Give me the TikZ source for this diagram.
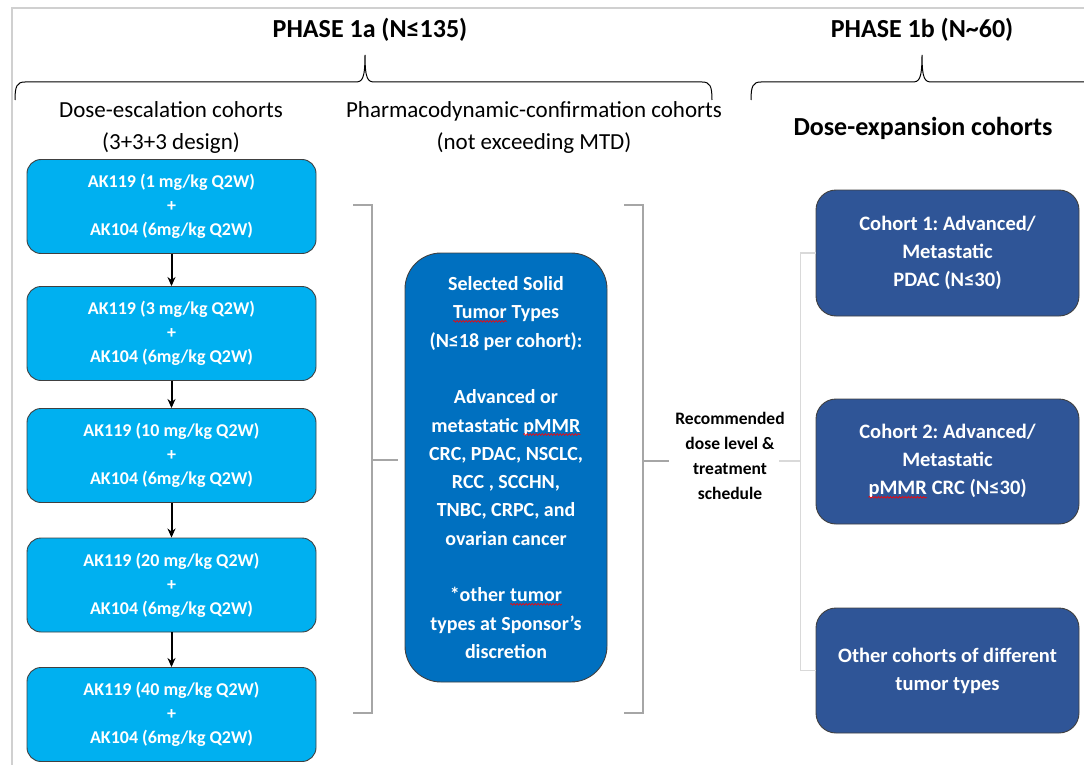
\documentclass[tikz,border=0pt]{standalone}
\usepackage{fontspec}
\setmainfont{Carlito}
\usetikzlibrary{arrows.meta, positioning, calc, decorations.pathmorphing}
\frenchspacing

\definecolor{doseblue}{HTML}{00B0F0}
\definecolor{pdblue}{HTML}{0070C0}
\definecolor{expblue}{HTML}{2F5597}
\definecolor{bracketgray}{HTML}{A6A6A6}
\definecolor{treegray}{HTML}{D9D9D9}
\definecolor{framegray}{HTML}{D0D0D0}

% red spell-check squiggle under a word
\newcommand{\spellmark}[1]{\tikz[baseline=(w.base)]{\node[rectangle, inner sep=0pt, outer sep=0pt, draw=none, fill=none, minimum width=0pt, minimum height=0pt, rounded corners=0pt] (w) {#1};
    \draw[red, line width=0.6pt, rounded corners=0pt, decorate, decoration={snake, amplitude=0.9pt, segment length=3pt}] ([yshift=-2.5pt]w.base west) -- ([yshift=-2.5pt]w.base east);}}

\begin{document}
\begin{tikzpicture}[x=1pt, y=-1pt,
    dosebox/.style={rectangle, rounded corners=14pt, draw=black!75, line width=0.9pt, fill=doseblue, text=white, font=\fontsize{18}{24}\selectfont\bfseries, align=center, minimum width=289pt, minimum height=94pt},
    pdbox/.style={rectangle, rounded corners=36pt, draw=black!75, line width=0.9pt, fill=pdblue, text=white, font=\fontsize{20}{28.3}\selectfont\bfseries, align=center, minimum width=202pt, minimum height=429pt},
    expbox/.style={rectangle, rounded corners=20pt, draw=black!75, line width=0.9pt, fill=expblue, text=white, font=\fontsize{20.5}{28}\selectfont\bfseries, align=center, minimum width=263pt, minimum height=125pt},
    phasehead/.style={font=\fontsize{26}{30}\selectfont\bfseries},
    colhead/.style={font=\fontsize{23}{32}\selectfont, align=center},
    flow/.style={-{Stealth[length=9pt,width=8pt]}, line width=2pt, black},
    bracket/.style={bracketgray, line width=1.6pt},
    tree/.style={treegray, line width=1.6pt}
]
\useasboundingbox (0,0) rectangle (1084,765);

% frame
\draw[framegray, line width=1.5pt] (12,765) -- (12,8) -- (1084,8);

% phase headers and braces
\node[phasehead] (phaseA) at (370,30) {PHASE 1a (N≤135)};
\node[phasehead] (phaseB) at (922,30) {PHASE 1b (N\textasciitilde 60)};

\draw[line width=1pt] (15,100) .. controls (15,86) and (17,82) .. (25,82) -- (355,82)
    .. controls (362,82) and (365,80) .. (365,55)
    .. controls (365,80) and (368,82) .. (375,82) -- (702,82)
    .. controls (710,82) and (712,86) .. (712,100);
\draw[line width=1pt] (751,100) .. controls (751,86) and (753,82) .. (761,82) -- (912,82)
    .. controls (919,82) and (922,80) .. (922,55)
    .. controls (922,80) and (925,82) .. (932,82) -- (1090,82);

% column headers
\node[colhead] (escHead) at (171,127) {Dose-escalation cohorts\\(3+3+3 design)};
\node[colhead] (pdHead) at (534,127.5) {Pharmacodynamic-confirmation cohorts\\(not exceeding MTD)};
\node[phasehead] (expHead) at (923,128) {Dose-expansion cohorts};

% dose escalation
\node[dosebox] (dose1) at (171.5,206.5) {AK119 (1 mg/kg Q2W)\\+\\AK104 (6mg/kg Q2W)};
\node[dosebox] (dose2) at (171.5,333.5) {AK119 (3 mg/kg Q2W)\\+\\AK104 (6mg/kg Q2W)};
\node[dosebox] (dose3) at (171.5,455.5) {AK119 (10 mg/kg Q2W)\\+\\AK104 (6mg/kg Q2W)};
\node[dosebox] (dose4) at (171.5,585) {AK119 (20 mg/kg Q2W)\\+\\AK104 (6mg/kg Q2W)};
\node[dosebox] (dose5) at (171.5,714.5) {AK119 (40 mg/kg Q2W)\\+\\AK104 (6mg/kg Q2W)};

\draw[flow] (dose1) -- (dose2);
\draw[flow] (dose2) -- (dose3);
\draw[flow] (dose3) -- (dose4);
\draw[flow] (dose4) -- (dose5);

% pharmacodynamic confirmation
\node[pdbox] (pd) at (506,467.5) {Selected Solid\\\spellmark{Tumor} Types\\(N≤18 per cohort):\\[28.3pt]
    Advanced or\\metastatic \spellmark{pMMR}\\CRC, PDAC, NSCLC,\\RCC , SCCHN,\\TNBC, CRPC, and\\ovarian cancer\\[28.3pt]
    *other \spellmark{tumor}\\types at Sponsor’s\\discretion};

\draw[bracket] (353,205) -- (372,205) -- (372,713) -- (353,713);
\draw[bracket, shorten >=7pt] (372,460) -- (372,460 -| pd.west);
\draw[bracket] (624,205) -- (643,205) -- (643,713) -- (624,713);

% recommended dose
\node[font=\fontsize{17.5}{25}\selectfont\bfseries, align=center, inner sep=0pt] (rec) at (730,456)
    {Recommended\\dose level \&\\treatment\\schedule};
\draw[bracket, shorten >=6pt] (643,461) -- (643,461 -| rec.west);

% dose expansion
\node[expbox, minimum height=126pt] (exp1) at (947.5,253) {Cohort 1: Advanced/\\Metastatic\\PDAC (N≤30)};
\node[expbox] (exp2) at (947.5,461.5) {Cohort 2: Advanced/\\Metastatic\\\spellmark{pMMR} CRC (N≤30)};
\node[expbox] (exp3) at (947.5,670.5) {Other cohorts of different\\tumor types};

\coordinate (trunk) at (801,461);
\draw[tree] (exp1.west) -- ++(-15,0) |- (exp3.west);
\draw[tree] (779,461) -- (trunk);

\end{tikzpicture}
\end{document}
